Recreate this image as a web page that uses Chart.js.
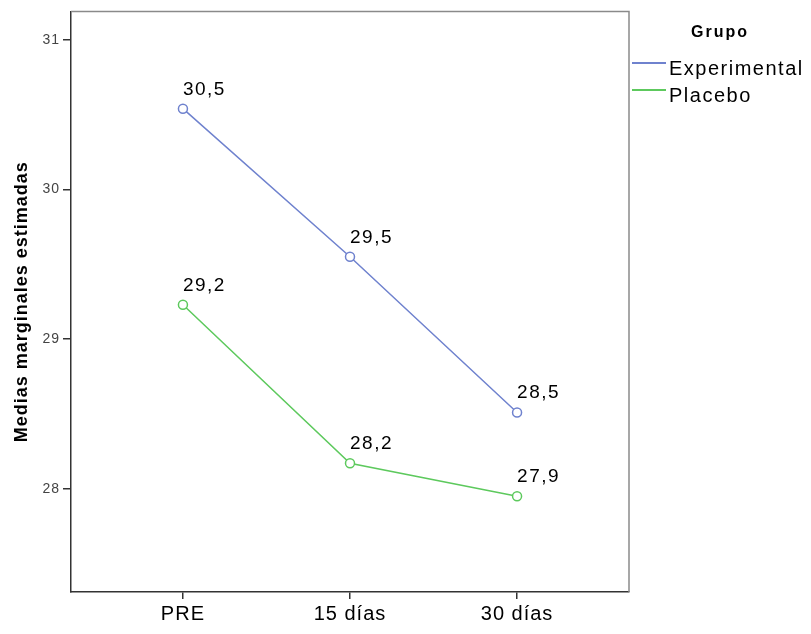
<!DOCTYPE html>
<html>
<head>
<meta charset="utf-8">
<script src="https://cdn.jsdelivr.net/npm/chart.js@4"></script>
<style>
  html, body { margin: 0; padding: 0; background: #fff; }
  #wrap { width: 811px; height: 634px; }
</style>
</head>
<body>
<div id="wrap"><canvas id="grafico"></canvas></div>
<script>
const momentos = ['PRE', '15 días', '30 días']
const grupos = ['Experimental', 'Placebo']
const experimental = [30.54, 29.55, 28.51]
const placebo = [29.23, 28.17, 27.95]
const etiquetasExp = ['30,5', '29,5', '28,5']
const etiquetasPla = ['29,2', '28,2', '27,9']
const yTicks = [28, 29, 30, 31]
const colores = ['#6F82CE', '#5DC95D']

const fuente = '"Liberation Sans", Arial, sans-serif'
const etiquetas = [etiquetasExp, etiquetasPla]

// el texto del original es algo mas ancho
const espaciado = {
  id: 'espaciado',
  beforeDraw(chart) { chart.ctx.letterSpacing = '1px' }
}

// marco, etiquetas de valor y leyenda
const extras = {
  id: 'extras',
  afterDatasetsDraw(chart) {
    const ctx = chart.ctx
    const a = chart.chartArea
    ctx.save()
    ctx.strokeStyle = '#8a8a8a'
    ctx.lineWidth = 1.5
    ctx.beginPath()
    ctx.moveTo(a.left, a.top)
    ctx.lineTo(a.right, a.top)
    ctx.lineTo(a.right, a.bottom)
    ctx.stroke()

    ctx.fillStyle = '#000'
    ctx.font = '19px ' + fuente
    ctx.letterSpacing = '1.5px'
    ctx.textAlign = 'left'
    ctx.textBaseline = 'alphabetic'
    chart.data.datasets.forEach((ds, i) => {
      chart.getDatasetMeta(i).data.forEach((pt, j) => {
        ctx.fillText(etiquetas[i][j], pt.x, pt.y - 14)
      })
    })

    // leyenda
    ctx.font = 'bold 16px ' + fuente
    ctx.letterSpacing = '2px'
    ctx.textAlign = 'center'
    ctx.fillText('Grupo', 720, 37)
    ctx.font = '20px ' + fuente
    ctx.letterSpacing = '1.5px'
    ctx.textAlign = 'left'
    grupos.forEach((g, i) => {
      const y = 63 + i * 27
      ctx.strokeStyle = colores[i]
      ctx.lineWidth = 2
      ctx.beginPath()
      ctx.moveTo(632, y)
      ctx.lineTo(666, y)
      ctx.stroke()
      ctx.fillText(g, 669, y + 12)
    })
    ctx.restore()
  }
}

new Chart(document.getElementById('grafico'), {
  type: 'line',
  data: {
    labels: momentos,
    datasets: [
      {
        label: grupos[0],
        data: experimental.map((v, i) => ({ x: i, y: v })),
        borderColor: colores[0],
        backgroundColor: '#fff',
        borderWidth: 1.5,
        pointRadius: 4.5,
        pointBorderWidth: 1.5,
        tension: 0
      },
      {
        label: grupos[1],
        data: placebo.map((v, i) => ({ x: i, y: v })),
        borderColor: colores[1],
        backgroundColor: '#fff',
        borderWidth: 1.5,
        pointRadius: 4.5,
        pointBorderWidth: 1.5,
        tension: 0
      }
    ]
  },
  options: {
    responsive: true,
    maintainAspectRatio: false,
    animation: false,
    devicePixelRatio: 1,
    layout: { padding: { top: 11, right: 182, left: 0, bottom: 0 } },
    plugins: { legend: { display: false }, tooltip: { enabled: false } },
    scales: {
      x: {
        type: 'linear',
        min: -0.67,
        max: 2.67,
        afterBuildTicks: s => { s.ticks = momentos.map((m, i) => ({ value: i })) },
        afterFit: s => { s.height = 42 },
        ticks: {
          callback: v => momentos[v],
          font: { size: 20, family: fuente },
          color: '#000',
          padding: 3,
          maxRotation: 0,
          autoSkip: false
        },
        grid: { drawOnChartArea: false, tickLength: 7, color: '#333', lineWidth: 1.5 },
        border: { color: '#333', width: 1.5 }
      },
      y: {
        min: 27.31,
        max: 31.19,
        afterBuildTicks: s => { s.ticks = yTicks.map(v => ({ value: v })) },
        afterFit: s => { s.width = 71 },
        ticks: {
          font: { size: 14, family: fuente },
          color: '#444',
          padding: 3
        },
        grid: { drawOnChartArea: false, tickLength: 8, color: '#333', lineWidth: 1.5 },
        border: { color: '#333', width: 1.5 },
        title: {
          display: true,
          text: 'Medias marginales estimadas',
          font: { size: 18, weight: 'bold', family: fuente },
          color: '#000',
          padding: { top: 11, bottom: 0 }
        }
      }
    }
  },
  plugins: [espaciado, extras]
})
</script>
</body>
</html>
